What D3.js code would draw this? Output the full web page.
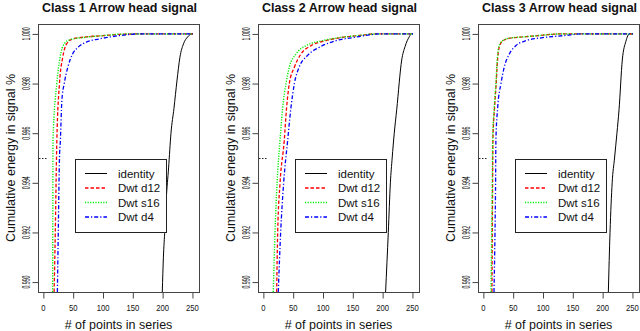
<!DOCTYPE html>
<html>
<head>
<meta charset="utf-8">
<script src="https://cdn.jsdelivr.net/npm/d3@7"></script>
<style>
  body { margin: 0; background: #fff; }
  text { font-family: Arial, "Liberation Sans", sans-serif; fill: #111; }
</style>
</head>
<body>
<div id="chart"></div>
<script>
var w = 640, h = 331;

/*
 * data: [# of points, cumulative energy]
 */
var titles = ["Class 1 Arrow head signal", "Class 2 Arrow head signal", "Class 3 Arrow head signal"];
var seriesNames = ["identity", "Dwt d12", "Dwt s16", "Dwt d4"];
var xTicks = [0, 50, 100, 150, 200, 250];
var yTicks = [0.990, 0.992, 0.994, 0.996, 0.998, 1.000];
var refLevel = 0.995;
var refSpan = [-9, 7];

var c1Identity = [[199.4,0.9896],[201.3,0.9910],[203.7,0.9921],[206,0.9933],[210,0.9946],[214,0.9960],[219,0.9970],[224,0.9981],[229,0.99906],[235,0.9996],[242,0.99988],[249,1.0],[251,1.0]];
var c1D12 = [[18,0.9896],[20,0.992],[22,0.995],[22.6,0.9957],[27,0.998],[32.5,0.99906],[39,0.9996],[49,0.9998],[72,0.99988],[100,0.99993],[127,0.99998],[160,1],[251,1]];
var c1S16 = [[15.5,0.9896],[15.8,0.992],[16.1,0.9957],[22.5,0.998],[28,0.99906],[35,0.9996],[44,0.99976],[72,0.99987],[100,0.99993],[127,0.99999],[150,1],[251,1]];
var c1D4 = [[23.5,0.9896],[25,0.992],[27,0.995],[28.5,0.9957],[31,0.99731],[35,0.998],[41,0.99866],[49,0.99919],[58,0.99946],[72,0.99967],[94,0.9998],[127,0.99993],[160,1],[251,1]];

var c2Identity = [[205,0.9896],[209.5,0.992],[213,0.994],[216,0.995],[219.5,0.996],[223.6,0.99694],[232,0.99895],[237.6,0.99949],[244.8,0.99989],[248,1],[251,1]];
var c2D12 = [[22.3,0.9896],[24,0.992],[28,0.994],[35,0.9957],[39,0.99704],[43.5,0.998],[52,0.99866],[63,0.99919],[80,0.99953],[105,0.99973],[135,0.99987],[166,0.99995],[185,1],[251,1]];
var c2S16 = [[16.6,0.9896],[19.5,0.992],[23,0.994],[27.9,0.9957],[32.4,0.99704],[38,0.998],[43.5,0.99866],[54.7,0.99919],[71.5,0.99953],[99.5,0.99973],[133,0.99987],[166,0.99995],[185,1],[251,1]];
var c2D4 = [[25,0.9896],[29,0.992],[34,0.994],[40.7,0.9957],[46.3,0.99704],[52,0.998],[60,0.99866],[74,0.99913],[93.8,0.99946],[122,0.99973],[155,0.99987],[175,0.99995],[195,1],[251,1]];

var c3Identity = [[209.6,0.9896],[212.4,0.992],[216,0.994],[220,0.995],[224,0.996],[227.5,0.99694],[233,0.99895],[239,0.9997],[245,1],[251,1]];
var c3D12 = [[14.4,0.9896],[15,0.992],[15.5,0.994],[16,0.9957],[18.8,0.99704],[21.5,0.998],[23.3,0.99879],[26.5,0.99946],[33,0.99973],[45,0.99983],[72,0.99989],[100,0.99995],[127,1],[251,1]];
var c3S16 = [[12.8,0.9896],[14,0.992],[15,0.994],[15.6,0.9957],[18.3,0.99704],[21,0.998],[22.8,0.99879],[25.6,0.99946],[32.3,0.99973],[43.5,0.99983],[71.5,0.99989],[100,0.99995],[127,1],[251,1]];
var c3D4 = [[17.8,0.9896],[19.5,0.992],[20.5,0.994],[21,0.9957],[24,0.99704],[29.5,0.998],[35,0.99866],[43.5,0.99919],[54.7,0.99953],[71.5,0.99973],[99.5,0.99985],[138.6,0.99994],[162,1],[251,1]];

var panels = [
  [c1Identity, c1D12, c1S16, c1D4],
  [c2Identity, c2D12, c2S16, c2D4],
  [c3Identity, c3D12, c3S16, c3D4]
];

// colour / lty per series (identity solid, then dashed, dotted, dotdash)
var colors = ["#000000", "#ff0000", "#00ee00", "#0000ff"];
var dashes = [null, "3.5,2", "1.2,1.4", "4,2,1.2,2"];
var widths = [1, 1.3, 1.4, 1.3];

var svg = d3.select("#chart").append("svg")
  .attr("width", w).attr("height", h)
  .style("display", "block");
svg.append("rect").attr("width", w).attr("height", h).attr("fill", "#fff");

function label(g, x, y, str, size, opts) {
  opts = opts || {};
  var t = "translate(" + x + "," + y + ")";
  if (opts.rot) t += " rotate(" + opts.rot + ")";
  if (opts.sx) t += " scale(" + opts.sx + ",1)";
  return g.append("text")
    .attr("transform", t)
    .attr("text-anchor", opts.anchor || "middle")
    .attr("font-size", size)
    .attr("font-weight", opts.bold ? "bold" : null)
    .text(str);
}

function drawPanel(p) {
  var off = 220 * p;
  var left = 38 + off, right = 199 + off, top = 24, bottom = 292;

  var x = d3.scaleLinear().domain([-9, 261]).range([left, right]);
  var y = d3.scaleLinear().domain([0.9896, 1.0004]).range([bottom, top]);

  var g = svg.append("g");

  g.append("clipPath").attr("id", "clip" + p)
    .append("rect")
    .attr("x", left).attr("y", top)
    .attr("width", right - left).attr("height", bottom - top);

  var line = d3.line()
    .x(function(d) { return x(d[0]); })
    .y(function(d) { return y(d[1]); })
    .curve(d3.curveMonotoneX);

  var plot = g.append("g").attr("clip-path", "url(#clip" + p + ")");

  panels[p].forEach(function(s, i) {
    plot.append("path")
      .attr("d", line(s))
      .attr("fill", "none")
      .attr("stroke", colors[i])
      .attr("stroke-width", widths[i])
      .attr("stroke-dasharray", dashes[i]);
  });

  // short dotted mark at the 99.5% level
  plot.append("line")
    .attr("x1", x(refSpan[0]) + 1).attr("x2", x(refSpan[1]))
    .attr("y1", Math.round(y(refLevel)) + 0.5).attr("y2", Math.round(y(refLevel)) + 0.5)
    .attr("stroke", "#222").attr("stroke-width", 1.2).attr("stroke-dasharray", "1.5,1.5");

  // box
  g.append("rect")
    .attr("x", left + 0.5).attr("y", top + 0.5)
    .attr("width", right - left).attr("height", bottom - top)
    .attr("fill", "none").attr("stroke", "#444");

  // y axis
  var yAxis = g.append("g")
    .attr("transform", "translate(" + (left + 0.5) + ",0)")
    .call(d3.axisLeft(y).tickValues(yTicks).tickSize(6).tickFormat(""));
  yAxis.select(".domain").remove();
  yAxis.selectAll("line").attr("stroke", "#444");
  yTicks.forEach(function(v) {
    label(g, left - 8, y(v), d3.format(".3f")(v), 10, { rot: -90, sx: 0.52 });
  });

  // x axis
  var xAxis = g.append("g")
    .attr("transform", "translate(0," + (bottom + 0.5) + ")")
    .call(d3.axisBottom(x).tickValues(xTicks).tickSize(6).tickFormat(""));
  xAxis.select(".domain").remove();
  xAxis.selectAll("line").attr("stroke", "#444");
  xTicks.forEach(function(v) {
    label(g, x(v), 310.5, String(v), 9, { sx: 0.85 });
  });

  // titles
  label(g, (left + right) / 2 + 1, 11.7, titles[p], 12.5, { bold: true });
  label(g, (left + right) / 2, 329, "# of points in series", 12.5);
  label(g, 14.5 + off, (top + bottom) / 2, "Cumulative energy in signal %", 12.5, { rot: -90 });

  // legend
  var lg = g.append("g");
  lg.append("rect")
    .attr("x", left + 37.5).attr("y", 159.5)
    .attr("width", 91).attr("height", 73)
    .attr("fill", "#fff").attr("stroke", "#222");
  seriesNames.forEach(function(name, i) {
    var ly = 173.5 + i * 14.5;
    lg.append("line")
      .attr("x1", left + 47).attr("x2", left + 69)
      .attr("y1", ly).attr("y2", ly)
      .attr("stroke", colors[i])
      .attr("stroke-width", widths[i])
      .attr("stroke-dasharray", dashes[i]);
    label(lg, left + 80, ly + 4, name, 11.5, { anchor: "start" });
  });
}

for (var p = 0; p < 3; p++) {
  drawPanel(p);
}
</script>
</body>
</html>
